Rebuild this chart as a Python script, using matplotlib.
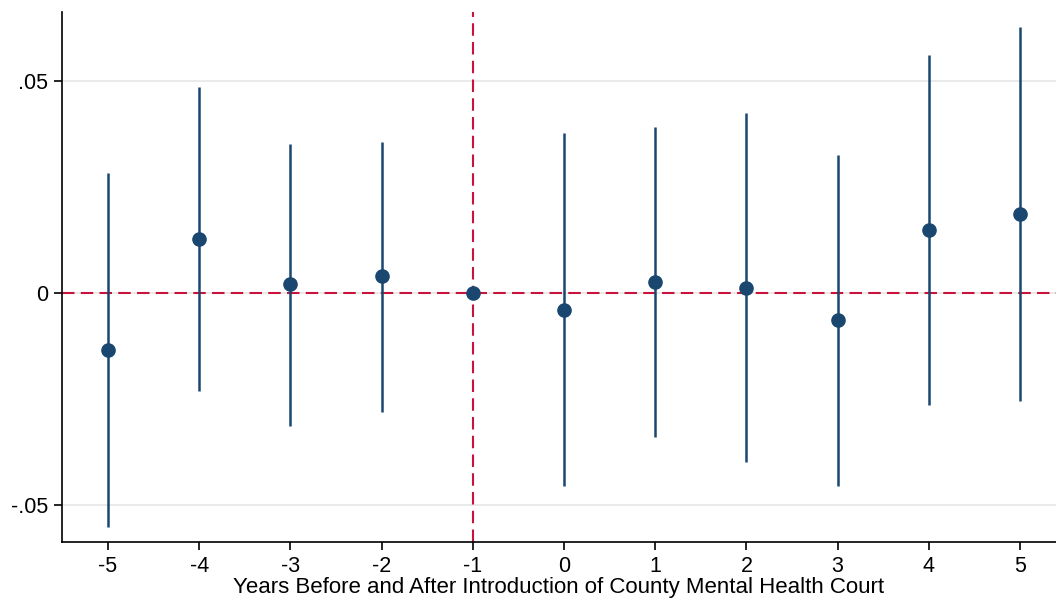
import matplotlib
matplotlib.use("Agg")
import matplotlib.pyplot as plt

years = [-5, -4, -3, -2, -1, 0, 1, 2, 3, 4, 5]
coef = [-0.0134, 0.0127, 0.0021, 0.0040, 0.0, -0.0040, 0.0026, 0.0012, -0.0064, 0.0149, 0.0186]
ci_low = [-0.0552, -0.0231, -0.0314, -0.0281, 0.0, -0.0455, -0.0340, -0.0399, -0.0455, -0.0264, -0.0255]
ci_high = [0.0283, 0.0486, 0.0351, 0.0356, 0.0, 0.0377, 0.0392, 0.0425, 0.0325, 0.0561, 0.0627]
ytick_vals = [-0.05, 0, 0.05]
ytick_labels = ["-.05", "0", ".05"]
xlabel = "Years Before and After Introduction of County Mental Health Court"

plt.rcParams['font.family'] = ['Liberation Sans', 'DejaVu Sans']

navy = "#1a476f"
red = "#c8143c"

fig = plt.figure(figsize=(10.56, 5.98), dpi=100)
ax = fig.add_axes([62/1056, 1 - 542/598, (1056 - 62)/1056, (542 - 12)/598])

ax.axhline(0, color=red, lw=1.5, ls=(0, (6, 3)), zorder=2)
ax.axvline(-1, color=red, lw=1.5, ls=(0, (6, 3)), zorder=2)

ax.vlines(years, ci_low, ci_high, color=navy, lw=1.8, zorder=3)
ax.plot(years, coef, 'o', color=navy, ms=9.5, zorder=4)

ax.set_xlim(-5.505, 5.395)
ax.set_ylim(-0.0587, 0.0663)
ax.set_xticks(years)
ax.set_xticklabels([str(y) for y in years])
ax.set_yticks(ytick_vals)
ax.set_yticklabels(ytick_labels)
ax.yaxis.grid(True, color="#e6e6e6", lw=1.2)
ax.set_axisbelow(True)
for s in ["top", "right"]:
    ax.spines[s].set_visible(False)
for s in ["left", "bottom"]:
    ax.spines[s].set_linewidth(1.2)
ax.tick_params(axis='both', labelsize=15.5, length=6, width=1.2, direction='out', pad=4)
ax.set_xlabel(xlabel, fontsize=16, labelpad=0)

fig.savefig("out.png", dpi=100)
